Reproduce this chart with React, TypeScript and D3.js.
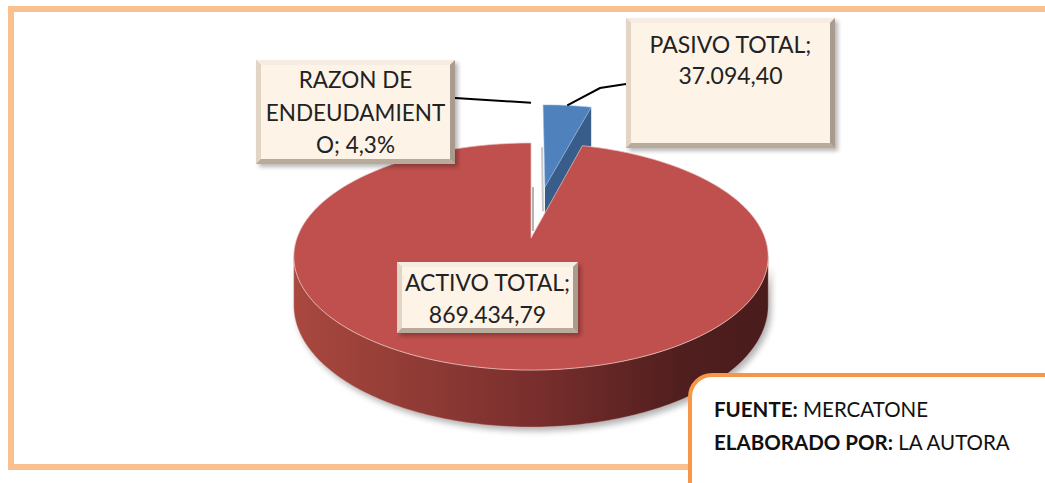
import React from "react";
import * as d3 from "d3";

const categories = ["PASIVO TOTAL", "ACTIVO TOTAL", "RAZON DE ENDEUDAMIENTO"];
const values = [37094.4, 869434.79, 0.043];
const valueLabels = ["37.094,40", "869.434,79", "4,3%"];
const labelLines = [
  ["PASIVO TOTAL;", "37.094,40"],
  ["ACTIVO TOTAL;", "869.434,79"],
  ["RAZON DE", "ENDEUDAMIENT", "O; 4,3%"],
];
const explode = [0.503, 0, 0.5];
const topColors = ["#4f81bd", "#c0504d", "#d0d0d0"];
const sideColors = ["#385d8a", "#8c3836", "#a0a0a0"];
const sourceLines = [
  ["FUENTE:", " MERCATONE"],
  ["ELABORADO POR:", " LA AUTORA"],
];

const W = 1045;
const H = 483;
const CX = 531;
const CY = 238;
const R = 234;
const RY = 110.5;
const P = 0.163;
const D = 47.7;

function proj(u: number, v: number, h: number): [number, number] {
  const s = 1 / (1 - P * v);
  return [CX + R * u * s, CY + RY * v * s + h * D * s];
}

function pt(theta: number, r: number, off: [number, number], h: number) {
  return proj(Math.sin(theta) * r + off[0], -Math.cos(theta) * r + off[1], h);
}

const line = d3.line<[number, number]>();

function Box({ x, y, w, h, lines, fs, lh, ty }: any) {
  const b = 5;
  return (
    <g>
      <rect x={x + 3} y={y + 3} width={w} height={h} fill="#000" opacity={0.28} filter="url(#blur2)" />
      <rect x={x} y={y} width={w} height={h} fill="#d8cabb" />
      <polygon points={`${x},${y} ${x + w},${y} ${x + w - b},${y + b} ${x + b},${y + b}`} fill="#f6ede2" />
      <polygon points={`${x},${y} ${x + b},${y + b} ${x + b},${y + h - b} ${x},${y + h}`} fill="#e2d5c6" />
      <polygon points={`${x},${y + h} ${x + b},${y + h - b} ${x + w - b},${y + h - b} ${x + w},${y + h}`} fill="#b9ab9c" />
      <polygon points={`${x + w},${y} ${x + w},${y + h} ${x + w - b},${y + h - b} ${x + w - b},${y + b}`} fill="#a99b8d" />
      <rect x={x + b} y={y + b} width={w - 2 * b} height={h - 2 * b} fill="#fdf3e7" />
      {lines.map((t: string, i: number) => (
        <text
          key={i}
          x={x + w / 2}
          y={ty + i * lh}
          textAnchor="middle"
          fontFamily="Lato, 'Open Sans', sans-serif"
          fontSize={fs}
          fill="#222"
        >
          {t}
        </text>
      ))}
    </g>
  );
}

export default function App() {
  const pie = d3
    .pie<number>()
    .sort(null)
    .startAngle(0)
    .endAngle(2 * Math.PI)
    .value((d) => d);
  const arcs = pie(values);

  const offs: [number, number][] = arcs.map((a, i) => {
    const mid = (a.startAngle + a.endAngle) / 2;
    return [Math.sin(mid) * explode[i], -Math.cos(mid) * explode[i]];
  });

  const topPath = (i: number) => {
    const a = arcs[i];
    const n = Math.max(2, Math.ceil(((a.endAngle - a.startAngle) / Math.PI) * 120));
    const pts: [number, number][] = [pt(0, 0, offs[i], 0)];
    d3.range(n + 1).forEach((k) => {
      const t = a.startAngle + ((a.endAngle - a.startAngle) * k) / n;
      pts.push(pt(t, 1, offs[i], 0));
    });
    pts.push(pt(0, 0, offs[i], 0));
    return line(pts) + "Z";
  };

  // front outer side of the big slice
  const thR = Math.acos(-P);
  const thL = 2 * Math.PI - thR;
  const nS = 160;
  const sideTop = d3.range(nS + 1).map((k) => pt(thR + ((thL - thR) * k) / nS, 1, offs[1], 0));
  const sideBot = d3.range(nS + 1).map((k) => pt(thL - ((thL - thR) * k) / nS, 1, offs[1], 1));
  const sidePath = line([...sideTop, ...sideBot]) + "Z";

  // radial face of blue slice at its end angle
  const eb = arcs[0].endAngle;
  const radFace =
    line([
      pt(0, 0, offs[0], 0),
      pt(eb, 1, offs[0], 0),
      pt(eb, 1, offs[0], 1),
      pt(0, 0, offs[0], 1),
    ]) + "Z";

  // zero slice (razon) edge, exploded
  const zA = pt(arcs[2].startAngle, 0, offs[2], 0);
  const zB = pt(arcs[2].startAngle, 0, offs[2], 1);
  // blue slice left edge shading
  const bA = pt(0, 0.45, offs[0], 0);
  const bB = pt(0, 0, offs[0], 0.55);

  // leader anchors
  const midB = (arcs[0].startAngle + arcs[0].endAngle) / 2;
  const aB = pt(midB, 1, offs[0], 0);
  const aZ = pt(arcs[2].startAngle, 1, offs[2], 0);

  const [x0] = pt(thL, 1, offs[1], 0);
  const [x1] = pt(thR, 1, offs[1], 0);

  return (
    <svg width={W} height={H} style={{ position: "absolute", left: 0, top: 0, background: "#fff" }}>
      <defs>
        <linearGradient id="sideGrad" gradientUnits="userSpaceOnUse" x1={x0} y1={0} x2={x1} y2={0}>
          <stop offset="0" stopColor="#a9483f" />
          <stop offset="0.5" stopColor="#7a2f2d" />
          <stop offset="0.82" stopColor="#501e1e" />
          <stop offset="1" stopColor="#4a1c1c" />
        </linearGradient>
        <filter id="blur2" x="-20%" y="-20%" width="140%" height="140%">
          <feGaussianBlur stdDeviation="2" />
        </filter>
        <filter id="blur4" x="-20%" y="-20%" width="140%" height="140%">
          <feGaussianBlur stdDeviation="3" />
        </filter>
      </defs>

      <rect x={11} y={9} width={1100} height={458} fill="none" stroke="#fac090" strokeWidth={6} />

      {/* pie shadow */}
      <path d={sidePath} transform="translate(3,4)" fill="#000" opacity={0.3} filter="url(#blur4)" />

      {/* razon zero slice and blue slice edge shading */}
      <line x1={zA[0] + 2} y1={zA[1]} x2={zB[0] + 2} y2={zB[1]} stroke="#b4b4b4" strokeWidth={2} />
      <line x1={bA[0] - 2} y1={bA[1]} x2={bB[0] - 2} y2={bB[1]} stroke="#c8c8c8" strokeWidth={2} />

      {/* blue slice */}
      <path d={radFace} fill={sideColors[0]} />
      <path d={topPath(0)} fill={topColors[0]} stroke="#9fbbe0" strokeWidth={0.8} strokeOpacity={0.7} />

      {/* red slice */}
      <path d={sidePath} fill="url(#sideGrad)" stroke="#d9a9a6" strokeWidth={0.6} strokeOpacity={0.6} />
      <path d={topPath(1)} fill={topColors[1]} stroke="#e8c2c0" strokeWidth={0.9} strokeOpacity={0.8} />

      {/* leader lines */}
      <polyline points={`${aB[0]},${aB[1]} 600,88 626,84`} fill="none" stroke="#000" strokeWidth={2} />
      <polyline points={`455,98 ${aZ[0]},${aZ[1] - 2}`} fill="none" stroke="#000" strokeWidth={2} />

      <Box x={256} y={60} w={199} h={104} lines={labelLines[2]} fs={22.5} lh={32.5} ty={88} />
      <Box x={626} y={18} w={209} h={130} lines={labelLines[0]} fs={23} lh={31} ty={53} />
      <Box x={397} y={262} w={181} h={71} lines={labelLines[1]} fs={23} lh={32} ty={291} />

      {/* source box */}
      <rect x={690} y={375} width={420} height={160} rx={22} fill="#fff" stroke="#f79646" strokeWidth={4} />
      {sourceLines.map((l, i) => (
        <text key={i} x={714} y={417 + i * 32.5} fontFamily="Lato, 'Open Sans', sans-serif" fontSize={20.5} fill="#111">
          <tspan fontWeight="bold">{l[0]}</tspan>
          <tspan>{l[1]}</tspan>
        </text>
      ))}
    </svg>
  );
}
